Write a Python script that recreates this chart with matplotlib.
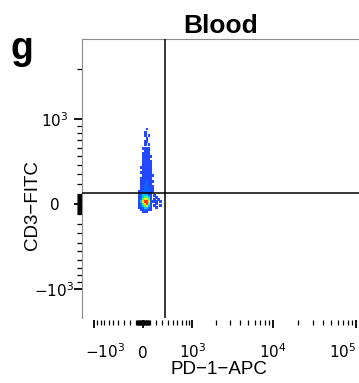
"""Flow cytometry panel g: CD3 vs PD-1 in blood (logicle-like axes)."""

import matplotlib

matplotlib.use("Agg")
import matplotlib.pyplot as plt  # noqa: E402
import matplotlib.transforms as mtransforms
import numpy as np
from matplotlib.ticker import FixedLocator

plt.rcParams["mathtext.fontset"] = "dejavusans"
plt.rcParams["font.family"] = ["Liberation Sans", "DejaVu Sans"]

# --- data -------------------------------------------------------------
title = "Blood"
panel = "g"
x_label = "PD\u22121\u2212APC"
y_label = "CD3\u2212FITC"

x_major = [-1000, 0, 1000, 10000, 100000]
x_major_labels = ["$-10^3$", "0", "$10^3$", "$10^4$", "$10^5$"]
y_major = [-1000, 0, 1000]
y_major_labels = ["$-10^3$", "0", "$10^3$"]

x_limits = (-1428, 262144)
y_limits = (-1518, 2900)

gate_pd1 = 353
gate_cd3 = 110

# event density: columns = PD-1 bins, rows = CD3 bins
pd1_bins = [-60, -30, 0, 30, 60, 90, 120, 150, 180, 210, 240, 270]
cd3_bins = [850, 800, 760, 720, 680, 640, 600, 560, 530, 500, 470, 440,
            410, 380, 350, 320, 290, 260, 230, 200, 175, 150, 125, 100,
            80, 60, 40, 20, 0, -20, -40, -60, -80]
density_rows = [
    "....1.......",
    "...1........",
    "...1.1......",
    "....1.......",
    "...11.......",
    "...1.1......",
    "..1111......",
    "...111......",
    "..1111......",
    "..11111.....",
    "..1111......",
    "..11111.....",
    "..11111.....",
    ".111111.....",
    "..11111.....",
    ".111111.....",
    "..111111....",
    ".111111.....",
    ".1112111....",
    ".111211.....",
    ".1122111....",
    ".1122211....",
    "11222211....",
    "1122221.....",
    "1233321.1...",
    "1234431..1..",
    "1245541.1.1.",
    "1356652111.1",
    "1245641..1..",
    "1234531.1..1",
    "1123321..1..",
    ".112211.....",
    "..111.......",
]

# --- figure -----------------------------------------------------------
C_X, C_Y = 545.0, 850.0

fig = plt.figure(figsize=(3.59, 3.83), dpi=100)
ax = fig.add_axes([82 / 359, 65 / 383, 309 / 359, 279 / 383])
ax.set_xscale("function", functions=(lambda v: np.arcsinh(np.asarray(v) / C_X),
                                     lambda u: C_X * np.sinh(np.asarray(u))))
ax.set_yscale("function", functions=(lambda v: np.arcsinh(np.asarray(v) / C_Y),
                                     lambda u: C_Y * np.sinh(np.asarray(u))))
ax.set_xlim(*x_limits)
ax.set_ylim(*y_limits)

palette = {"1": "#2448ff", "2": "#0b62ff", "3": "#00c4ff",
           "4": "#3cff7a", "5": "#ffe000", "6": "#ff3a00"}
pts = []
for yv, row in zip(cd3_bins, density_rows):
    for xv, ch in zip(pd1_bins, row):
        if ch != ".":
            pts.append((int(ch), xv, yv))
pts.sort(key=lambda p: p[0])  # hot cells drawn on top
ax.scatter([p[1] for p in pts], [p[2] for p in pts],
           c=[palette[str(p[0])] for p in pts],
           marker="s", s=4.5, linewidths=0, zorder=2)

ax.axvline(gate_pd1, color="black", lw=1.1, zorder=3)
ax.axhline(gate_cd3, color="black", lw=1.1, zorder=3)


def minor_ticks(lo, hi):
    vals = []
    for dec in (10, 100, 1000, 10000, 100000):
        for m in range(1, 10):
            for s in (-1, 1):
                v = s * m * dec
                if lo < v < hi and v not in (-1000, 1000, 10000, 100000):
                    vals.append(v)
    return sorted(vals)


ax.xaxis.set_major_locator(FixedLocator(x_major))
ax.xaxis.set_minor_locator(FixedLocator(minor_ticks(*x_limits)))
ax.set_xticklabels(x_major_labels)
ax.yaxis.set_major_locator(FixedLocator(y_major))
ax.yaxis.set_minor_locator(FixedLocator(minor_ticks(*y_limits)))
ax.set_yticklabels(y_major_labels)

for side in ("top", "left"):
    ax.spines[side].set_color("#8c8c8c")
    ax.spines[side].set_linewidth(0.8)
ax.spines["right"].set_visible(False)
ax.spines["bottom"].set_position(("outward", 1.5))
ax.spines["bottom"].set_visible(False)

ax.tick_params(which="major", length=5.5, width=1.3, color="black",
               labelsize=11, labelfontfamily="DejaVu Sans")
ax.tick_params(which="minor", length=3.5, width=0.9, color="black")
ax.tick_params(axis="x", which="major", pad=22)
ax.tick_params(axis="y", which="major", pad=14.4)
xlabs = ax.get_xticklabels()
for lab in xlabs:
    lab.set_verticalalignment("baseline")
# end labels are pulled inwards, as in the original export
shift = mtransforms.ScaledTranslation(11 / 100, 0, fig.dpi_scale_trans)
xlabs[0].set_transform(xlabs[0].get_transform() + shift)
xlabs[-1].set_horizontalalignment("right")
for lab in ax.get_yticklabels():
    lab.set_horizontalalignment("center")

fig.text(221 / 359, 1 - 33 / 383, title, ha="center", va="baseline",
         fontsize=19, fontweight="bold")
fig.text(10 / 359, 1 - 59 / 383, panel, ha="left", va="baseline",
         fontsize=27, fontweight="bold")
fig.text(219 / 359, 1 - 374 / 383, x_label, ha="center", va="baseline",
         fontsize=13.5)
fig.text(33 / 359, 1 - 205 / 383, y_label, ha="center", va="center",
         rotation=90, fontsize=13.5)

fig.savefig("out.png", dpi=100)
